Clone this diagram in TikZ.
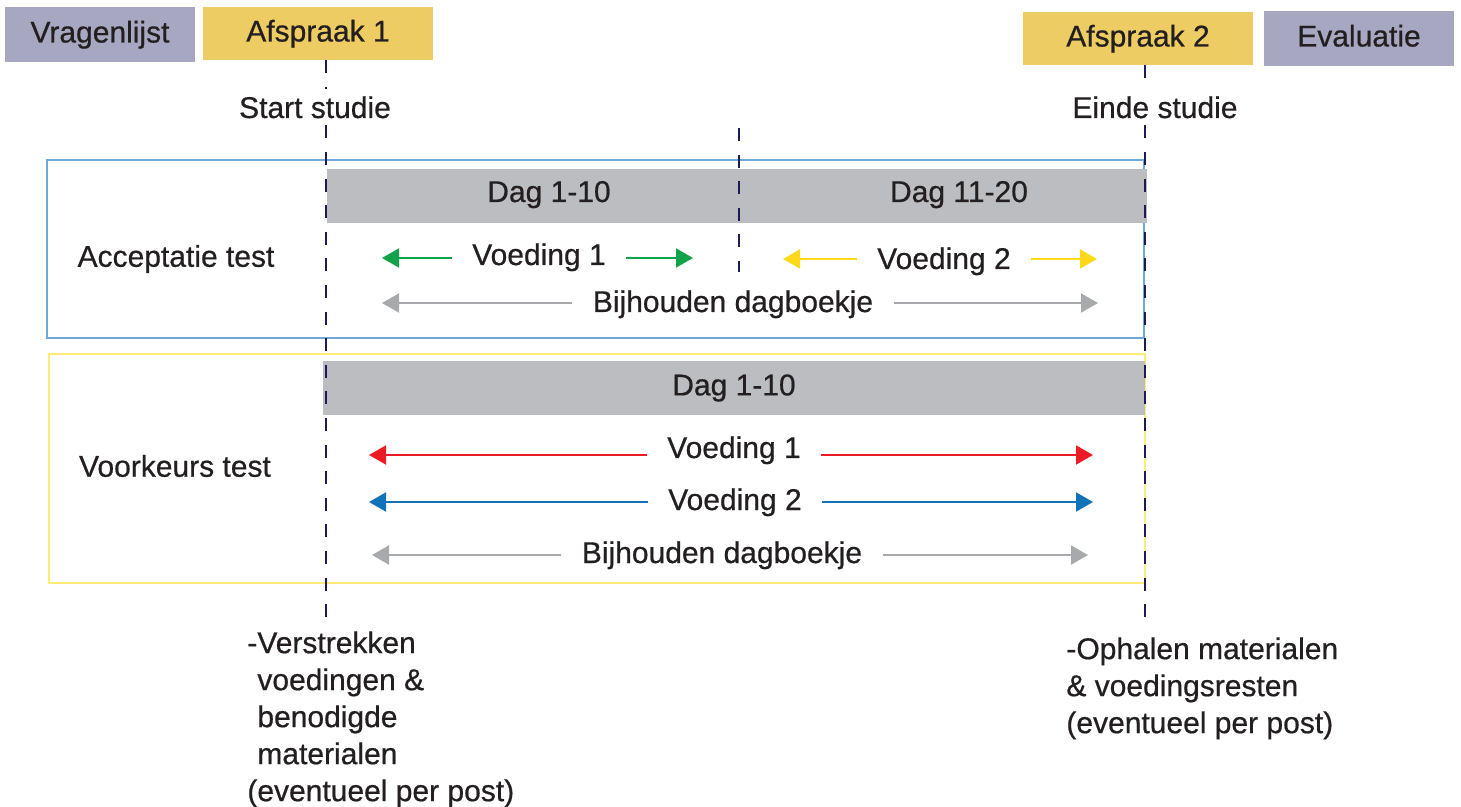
\documentclass[tikz,border=0pt]{standalone}
\usepackage{fontspec}
\setmainfont{Liberation Sans}[FakeBold=0.6]
\usetikzlibrary{arrows.meta}

\definecolor{lavendel}{RGB}{168,167,193}
\definecolor{goud}{RGB}{237,204,100}
\definecolor{balkgrijs}{RGB}{188,189,192}
\definecolor{kaderblauw}{RGB}{110,169,218}
\definecolor{kadergeel}{RGB}{255,236,120}
\definecolor{groen}{RGB}{18,162,74}
\definecolor{geel}{RGB}{255,216,26}
\definecolor{grijs}{RGB}{167,169,172}
\definecolor{rood}{RGB}{237,28,36}
\definecolor{blauw}{RGB}{18,114,186}
\definecolor{nachtblauw}{RGB}{30,27,84}
\definecolor{tekst}{RGB}{35,31,32}

\def\tekstgrootte{\fontsize{15pt}{18.5pt}\selectfont}

\begin{document}
\begin{tikzpicture}[x=0.5pt, y=-0.5pt, font=\tekstgrootte, text=tekst]
    \tikzstyle{fase}=[rectangle, inner sep=0pt, text height=11pt, text depth=3pt]
    \tikzstyle{vragen fase}=[fase, fill=lavendel, minimum width=95pt, minimum height=27.5pt]
    \tikzstyle{afspraak fase}=[fase, fill=goud, minimum width=115pt, minimum height=26.5pt]
    \tikzstyle{kader}=[rectangle, line width=1.2pt, inner sep=0pt]
    \tikzstyle{balk}=[rectangle, fill=balkgrijs, inner sep=0pt, minimum height=27pt]
    \tikzstyle{pijltekst}=[inner xsep=10pt, anchor=base]
    \tikzstyle{pijl}=[line width=1pt, -{Triangle[length=8.5pt, width=9.5pt]}]
    \tikzstyle{tijdlijn}=[nachtblauw, line width=1.3pt, dash pattern=on 6.5pt off 6.8pt]
    \tikzstyle{notitie}=[align=left, anchor=north west, inner sep=0pt]

    \useasboundingbox (0,0) rectangle (1461,807);

    % Draw the phases along the top
    \node[vragen fase] (vragenlijst) at (100,34.5) {Vragenlijst};
    \node[afspraak fase] (afspraak1) at (318,33.5) {Afspraak 1};
    \node[afspraak fase] (afspraak2) at (1138,38.5) {Afspraak 2};
    \node[vragen fase] (evaluatie) at (1359,38.5) {Evaluatie};

    \node[anchor=base] (start) at (315,118) {Start studie};
    \node[anchor=base] (einde) at (1155,118) {Einde studie};

    % Draw the frames of both tests
    \node[kader, draw=kaderblauw, minimum width=548.5pt, minimum height=89pt] (acceptatie) at (595.5,249) {};
    \node[kader, draw=kadergeel, minimum width=548pt, minimum height=114.5pt] (voorkeur) at (597,468.5) {};
    \node (acc) at (176,259) {Acceptatie test};
    \node (vk) at (175,466) {Voorkeurs test};

    % Draw the bars with the days
    \node[balk, minimum width=206pt] (dag1) at (533,196) {};
    \node[balk, minimum width=204pt] (dag2) at (943,196) {};
    \node[balk, minimum width=411pt] (dag3) at (734,388) {Dag 1-10};
    \node[anchor=base] (dag1t) at (549,202) {Dag 1-10};
    \node[anchor=base] (dag2t) at (959,202) {Dag 11-20};

    % Draw the arrows on both sides of each label
    \foreach \naam/\woord/\kleur/\xt/\yt/\ya/\links/\rechts in {
        v1/Voeding 1/groen/539/265/258/382/693,
        v2/Voeding 2/geel/944/269/259/783/1097,
        b1/Bijhouden dagboekje/grijs/733/312/303/382/1098,
        v3/Voeding 1/rood/734/458/455/369/1093,
        v4/Voeding 2/blauw/735/510/502/369/1093,
        b2/Bijhouden dagboekje/grijs/722/563/555/372/1088}
    {
        \node[pijltekst] (\naam) at (\xt,\yt) {\woord};
        \coordinate (\naam-l) at (\links,\ya);
        \coordinate (\naam-r) at (\rechts,\ya);
        \draw[pijl, \kleur] (\naam.west |- \naam-l) -- (\naam-l);
        \draw[pijl, \kleur] (\naam.east |- \naam-r) -- (\naam-r);
    }

    % Draw the time lines
    \coordinate (t1a) at (326,60);
    \coordinate (t1b) at (326,620);
    \coordinate (t2a) at (1145,65);
    \coordinate (t2b) at (1145,620);
    \coordinate (t3a) at (739,128);
    \coordinate (t3b) at (739,272);
    \draw[tijdlijn] (t1a) -- (t1a |- start.north);
    \draw[tijdlijn] (t1a |- start.south) -- (t1b);
    \draw[tijdlijn] (t2a) -- (t2a |- einde.north);
    \draw[tijdlijn] (t2a |- einde.south) -- (t2b);
    \draw[tijdlijn] (t3a) -- (t3b);

    % Notes under the time lines
    \node[notitie] (verstrekken) at (247,631) {-Verstrekken\\\phantom{-}voedingen \&\\\phantom{-}benodigde\\\phantom{-}materialen\\(eventueel per post)};
    \node[notitie] (ophalen) at (1066,637) {-Ophalen materialen\\\& voedingsresten\\(eventueel per post)};

\end{tikzpicture}
\end{document}
